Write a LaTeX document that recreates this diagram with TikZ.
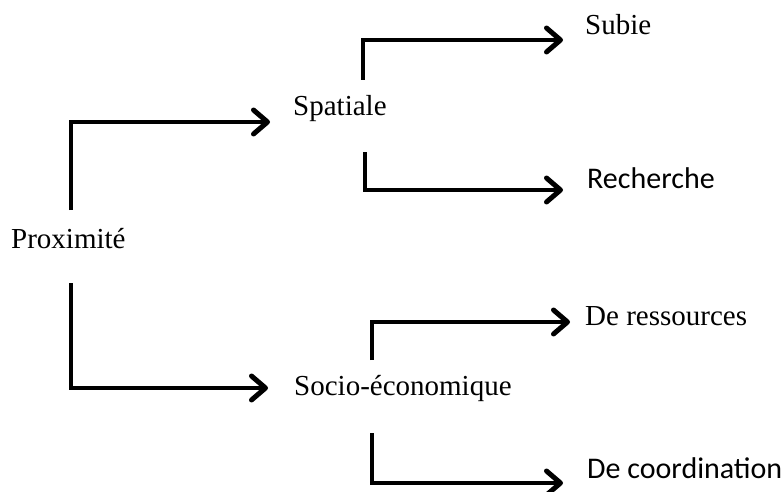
\documentclass[tikz,border=0pt]{standalone}
\usepackage{fontspec}
\setmainfont{Liberation Serif}
\newfontfamily\sansf{Carlito}
\usetikzlibrary{arrows.meta,calc}
\begin{document}
\begin{tikzpicture}[x=1pt,y=-1pt,
  lbl/.style={anchor=base west,inner sep=0pt,font=\fontsize{29}{31}\selectfont},
  slbl/.style={anchor=base west,inner sep=0pt,font=\sansf\fontsize{30}{32}\selectfont},
  arr/.style={line width=4.5pt,line join=miter,
    -{Straight Barb[length=14pt,width=24pt,line width=5pt,line cap=round,line join=round]}}]
\useasboundingbox (0,0) rectangle (784,492);
\node[lbl] (prox) at (11,248) {Proximité};
\node[lbl] (spat) at (293,116) {Spatiale};
\node[lbl] (socio) at (294,395) {Socio-économique};
\node[lbl] (subie) at (585,35) {Subie};
\node[slbl] (rech) at (587,188) {Recherche};
\node[lbl] (res) at (585,325) {De ressources};
\node[slbl] (coord) at (587,478) {De coordination};
\draw[arr] ($(prox.base west)+(60,-38)$) |- ($(spat.base west)+(-23,6)$);
\draw[arr] ($(prox.base west)+(60,35)$) |- ($(socio.base west)+(-26,-7)$);
\draw[arr] ($(spat.base west)+(70,-36)$) |- ($(subie.base west)+(-22,5)$);
\draw[arr] ($(spat.base west)+(72,36)$) |- ($(rech.base west)+(-24,2)$);
\draw[arr] ($(socio.base west)+(78,-35)$) |- ($(res.base west)+(-15,-3)$);
\draw[arr] ($(socio.base west)+(78,38)$) |- ($(coord.base west)+(-24,5)$);
\end{tikzpicture}
\end{document}
